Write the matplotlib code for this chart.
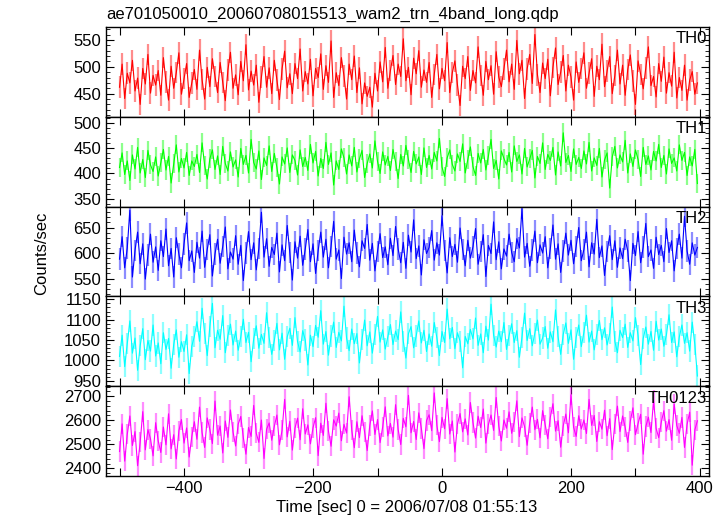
import matplotlib
matplotlib.use("Agg")
import matplotlib.pyplot as plt
from matplotlib.ticker import MultipleLocator, FuncFormatter
import numpy as np

plt.rcParams['font.family'] = ['Liberation Sans', 'DejaVu Sans']

TITLE = 'ae701050010_20060708015513_wam2_trn_4band_long.qdp'
XLABEL = 'Time [sec] 0 = 2006/07/08 01:55:13'
YLABEL = 'Counts/sec'

# time grid of the light curve (sec from 2006/07/08 01:55:13)
T_START = -500
T_STEP = 4

# count rates, one row per 60 sec
TH0 = [
    462, 505, 441, 488, 470, 512, 455, 479, 430, 497, 468, 523, 451, 484, 466,
    493, 447, 517, 472, 438, 501, 460, 489, 526, 449, 478, 506, 443, 470, 495,
    458, 531, 476, 440, 499, 463, 515, 482, 452, 508, 471, 437, 494, 527, 460,
    485, 448, 510, 474, 541, 457, 492, 466, 503, 434, 481, 519, 462, 498, 450,
    512, 475, 439, 496, 529, 461, 487, 450, 506, 478, 533, 455, 491, 468, 514,
    446, 497, 480, 524, 458, 502, 471, 548, 443, 489, 465, 517, 483, 440, 505,
    476, 520, 452, 498, 431, 470, 445, 462, 425, 488, 455, 509, 472, 536, 460,
    493, 521, 467, 505, 482, 552, 474, 499, 448, 516, 487, 530, 462, 494, 471,
    508, 443, 486, 523, 459, 497, 474, 545, 452, 489, 511, 466, 428, 501, 478,
    519, 456, 493, 470, 537, 484, 447, 510, 476, 502, 449, 528, 481, 463, 496,
    531, 472, 505, 458, 549, 487, 512, 441, 496, 523, 469, 560, 485, 452, 507,
    478, 514, 446, 499, 535, 467, 490, 521, 455, 503, 481, 438, 509, 471, 497,
    526, 460, 488, 515, 445, 501, 476, 542, 463, 492, 519, 450, 484, 531, 468,
    503, 447, 495, 522, 474, 430, 511, 486, 459, 498, 537, 465, 482, 444, 506,
    473, 518, 451, 489, 464, 527, 442, 480, 456, 503, 438, 475, 491, 449, 470,
]
TH1 = [
    412, 441, 398, 425, 386, 437, 409, 452, 401, 428, 392, 446, 417, 404, 433,
    395, 421, 448, 407, 434, 381, 419, 457, 403, 430, 411, 442, 396, 425, 414,
    438, 402, 461, 416, 389, 429, 447, 408, 435, 398, 454, 420, 405, 443, 413,
    427, 393, 450, 418, 436, 401, 468, 422, 409, 445, 388, 431, 416, 455, 404,
    440, 412, 379, 433, 419, 451, 402, 437, 426, 397, 447, 414, 432, 406, 458,
    421, 444, 395, 430, 410, 462, 418, 441, 377, 425, 408, 449, 431, 399, 437,
    415, 452, 403, 429, 446, 392, 420, 439, 411, 465, 424, 400, 443, 417, 434,
    406, 448, 423, 390, 438, 415, 456, 427, 402, 444, 419, 433, 398, 451, 412,
    436, 409, 442, 425, 470, 413, 394, 431, 447, 418, 405, 439, 424, 459, 401,
    428, 453, 414, 396, 440, 421, 448, 407, 435, 468, 410, 426, 389, 445, 430,
    417, 442, 403, 455, 424, 437, 399, 450, 413, 429, 446, 391, 434, 420, 461,
    408, 438, 426, 452, 397, 443, 415, 481, 422, 436, 404, 449, 418, 432, 410,
    445, 419, 462, 405, 431, 416, 450, 393, 427, 441, 371, 433, 454, 411, 437,
    423, 466, 401, 439, 414, 447, 428, 394, 452, 418, 435, 407, 444, 425, 458,
    412, 436, 399, 449, 420, 431, 405, 457, 426, 442, 396, 433, 415, 448, 380,
]
TH2 = [
    588, 632, 571, 610, 684, 553, 605, 641, 579, 618, 549, 596, 637, 582, 612,
    566, 624, 593, 647, 575, 609, 553, 630, 598, 571, 618, 659, 585, 604, 562,
    621, 590, 643, 572, 607, 636, 555, 598, 627, 580, 613, 651, 569, 602, 588,
    634, 578, 615, 546, 600, 642, 587, 620, 567, 609, 680, 592, 628, 574, 611,
    597, 639, 563, 616, 585, 654, 601, 547, 622, 590, 633, 576, 608, 646, 583,
    618, 560, 605, 641, 592, 627, 571, 613, 662, 588, 606, 550, 631, 598, 620,
    583, 645, 600, 573, 624, 609, 656, 586, 619, 565, 603, 638, 591, 612, 577,
    629, 595, 652, 608, 581, 621, 570, 635, 602, 665, 589, 614, 557, 626, 599,
    611, 644, 586, 620, 596, 673, 605, 561, 630, 593, 617, 582, 649, 607, 575,
    625, 590, 612, 648, 578, 603, 636, 554, 615, 599, 661, 587, 622, 569, 608,
    594, 637, 601, 583, 628, 610, 687, 592, 619, 574, 606, 643, 581, 616, 600,
    632, 571, 609, 655, 588, 618, 562, 604, 639, 596, 625, 579, 613, 650, 585,
    607, 641, 573, 620, 598, 666, 591, 614, 556, 603, 634, 587, 624, 572, 610,
    589, 627, 604, 546, 619, 595, 642, 581, 612, 658, 593, 606, 570, 631, 597,
    615, 583, 648, 601, 624, 565, 609, 637, 590, 672, 604, 578, 620, 596, 611,
]
TH3 = [
    1010, 1062, 985, 1041, 1097, 1018, 1055, 976, 1036, 1078, 1002, 1049, 1023, 1087, 1011,
    1043, 992, 1068, 1027, 1054, 981, 1039, 1075, 1008, 1046, 1022, 1063, 968, 1035, 1059,
    1095, 1047, 1128, 1066, 1012, 1083, 1140, 1031, 1074, 1052, 1110, 1019, 1061, 1089, 1038,
    1072, 1025, 1058, 1101, 1044, 1069, 997, 1053, 1085, 1030, 1064, 1042, 1117, 1056, 1015,
    1049, 1091, 1026, 1067, 1003, 1058, 1079, 1037, 1105, 1046, 1021, 1073, 1050, 989, 1062,
    1034, 1086, 1057, 1122, 1040, 1071, 1013, 1060, 1094, 1032, 1069, 1048, 1133, 1055, 1024,
    1077, 1041, 1066, 994, 1052, 1099, 1036, 1070, 1018, 1063, 1108, 1045, 1075, 1028, 1058,
    1088, 1039, 1072, 1051, 1119, 1047, 1006, 1066, 1083, 1031, 1060, 1097, 1043, 1074, 1022,
    1065, 1035, 1093, 1056, 1012, 1071, 1044, 1126, 1053, 1081, 1029, 1068, 1047, 982, 1059,
    1041, 1076, 1053, 1104, 1037, 1065, 1019, 1084, 1050, 1138, 1062, 1033, 1072, 1046, 1093,
    1027, 1061, 1090, 1044, 1073, 1008, 1057, 1116, 1049, 1078, 1036, 1067, 1099, 1040, 1055,
    1083, 1030, 1070, 1046, 1124, 1058, 1015, 1064, 1092, 1042, 1075, 1003, 1057, 1087, 1034,
    1069, 1111, 1045, 1072, 1026, 1063, 1098, 1051, 1080, 1038, 1066, 1131, 1047, 1019, 1074,
    1056, 1089, 1032, 1068, 1048, 1105, 1061, 990, 1054, 1082, 1040, 1071, 1025, 1096, 1050,
    1077, 1035, 1063, 1112, 1044, 1070, 1009, 1058, 1087, 1042, 1068, 1023, 1094, 1039, 962,
]
TH0123 = [
    2470, 2585, 2430, 2542, 2618, 2495, 2553, 2411, 2508, 2636, 2477, 2561, 2523, 2452, 2590,
    2514, 2466, 2572, 2498, 2627, 2481, 2540, 2439, 2556, 2603, 2505, 2568, 2447, 2532, 2594,
    2521, 2655, 2549, 2487, 2610, 2562, 2503, 2680, 2538, 2576, 2464, 2597, 2529, 2643, 2551,
    2493, 2584, 2616, 2527, 2459, 2570, 2533, 2662, 2546, 2508, 2601, 2441, 2563, 2589, 2517,
    2575, 2622, 2498, 2558, 2687, 2531, 2596, 2476, 2567, 2609, 2519, 2648, 2543, 2581, 2502,
    2569, 2611, 2453, 2588, 2537, 2671, 2554, 2492, 2602, 2576, 2630, 2515, 2583, 2547, 2698,
    2560, 2486, 2594, 2528, 2619, 2551, 2474, 2578, 2639, 2541, 2603, 2507, 2572, 2656, 2535,
    2587, 2530, 2665, 2562, 2499, 2608, 2573, 2704, 2548, 2595, 2520, 2631, 2566, 2482, 2599,
    2623, 2557, 2714, 2580, 2511, 2612, 2565, 2690, 2543, 2597, 2468, 2585, 2628, 2552, 2606,
    2539, 2674, 2591, 2526, 2617, 2570, 2647, 2505, 2583, 2622, 2558, 2695, 2576, 2514, 2601,
    2567, 2635, 2546, 2593, 2681, 2532, 2610, 2574, 2496, 2589, 2655, 2561, 2604, 2527, 2640,
    2582, 2523, 2613, 2669, 2555, 2598, 2488, 2577, 2626, 2548, 2706, 2571, 2533, 2619, 2564,
    2601, 2545, 2687, 2579, 2620, 2512, 2594, 2563, 2642, 2536, 2607, 2478, 2585, 2659, 2553,
    2618, 2571, 2508, 2596, 2652, 2540, 2587, 2625, 2459, 2574, 2613, 2549, 2683, 2566, 2528,
    2592, 2640, 2555, 2603, 2517, 2668, 2578, 2546, 2612, 2487, 2583, 2634, 2413, 2560, 2598,
]

# typical 1-sigma error bar per band
ERRORS = [20, 19, 21, 26, 42]

BANDS = ['TH0', 'TH1', 'TH2', 'TH3', 'TH0123']
SERIES = [TH0, TH1, TH2, TH3, TH0123]
COLORS = ['#ff0000', '#00ff00', '#0000ff', '#00ffff', '#ff00ff']
YLIMS = [(407, 574), (334, 513), (515, 691), (937, 1157), (2368, 2742)]
YMAJOR = [50, 50, 50, 50, 100]
YMINOR = [10, 10, 10, 10, 20]

fig = plt.figure(figsize=(7.24, 5.16), dpi=100)
gs = fig.add_gridspec(5, 1, left=0.1464, right=0.9793, bottom=0.0775, top=0.9477, hspace=0)

for i, (band, vals) in enumerate(zip(BANDS, SERIES)):
    ax = fig.add_subplot(gs[i])
    t = T_START + T_STEP * np.arange(len(vals))
    ax.errorbar(t, vals, yerr=ERRORS[i], fmt='none', ecolor=COLORS[i],
                elinewidth=1.6, alpha=0.45)
    ax.plot(t, vals, color=COLORS[i], lw=0.8)
    ax.set_xlim(-521, 414)
    ax.set_ylim(*YLIMS[i])
    ax.xaxis.set_major_locator(MultipleLocator(100))
    ax.yaxis.set_major_locator(MultipleLocator(YMAJOR[i]))
    ax.yaxis.set_minor_locator(MultipleLocator(YMINOR[i]))
    ax.tick_params(which='both', direction='in', top=True, right=True, labelsize=12)
    ax.tick_params(which='major', length=6, width=0.8)
    ax.tick_params(which='minor', length=3, width=0.6)
    if i < 4:
        ax.tick_params(labelbottom=False)
    else:
        ax.xaxis.set_major_formatter(FuncFormatter(
            lambda v, p: f'{int(round(v))}'.replace('-', '\u2212') if round(v) % 200 == 0 else ''))
    for s in ax.spines.values():
        s.set_linewidth(1.0)
    ax.text(0.997, 0.95, band, transform=ax.transAxes, ha='right', va='top', fontsize=12)

fig.text(0.1464, 0.972, TITLE, ha='left', va='center', fontsize=12)
fig.text(0.058, 0.51, YLABEL, rotation=90, ha='center', va='center', fontsize=12)
fig.text(0.562, 0.016, XLABEL, ha='center', va='center', fontsize=12)

fig.savefig('out.png', dpi=100)
